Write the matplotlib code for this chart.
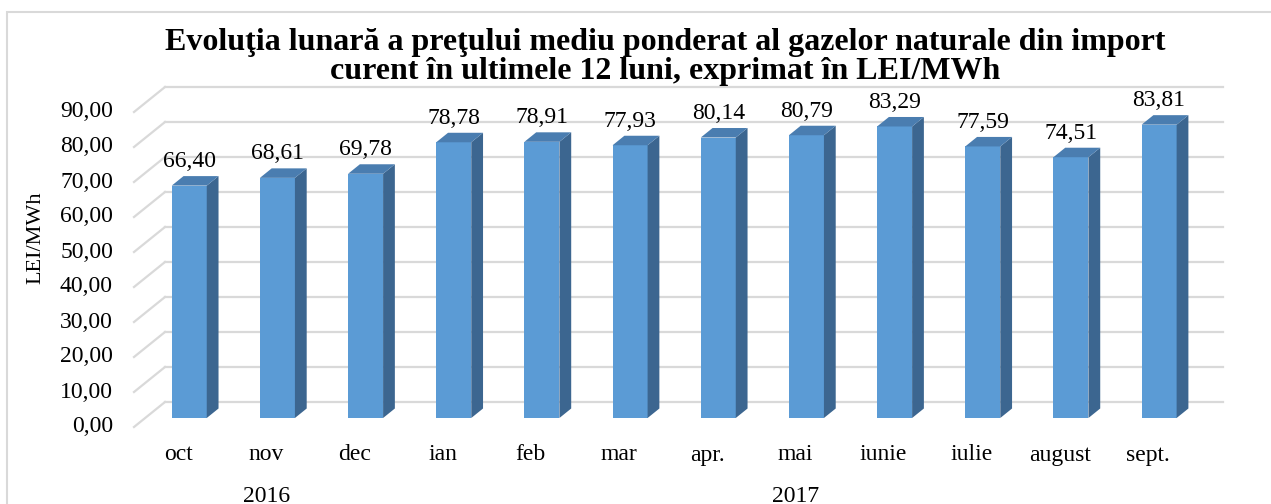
import matplotlib
matplotlib.use("Agg")
import matplotlib.pyplot as plt
from matplotlib.patches import Polygon, Rectangle

# ---- data ----
categories = ["oct", "nov", "dec", "ian", "feb", "mar", "apr.", "mai", "iunie", "iulie", "august", "sept."]
values = [66.40, 68.61, 69.78, 78.78, 78.91, 77.93, 80.14, 80.79, 83.29, 77.59, 74.51, 83.81]
years = ["2016", "2017"]
year_spans = [(0, 2), (3, 11)]
yticks = [0, 10, 20, 30, 40, 50, 60, 70, 80, 90]
title = ("Evoluţia lunară a preţului mediu ponderat al gazelor naturale din import\n"
         "curent în ultimele 12 luni, exprimat în LEI/MWh")
ylabel = "LEI/MWh"

W, H = 1271, 504
plt.rcParams['font.family'] = ['Liberation Serif', 'DejaVu Serif']
fig = plt.figure(figsize=(W / 100, H / 100), dpi=100)

# outer frame
fig.patches.append(Rectangle((7 / W, -0.1), 1.2, (H - 12) / H + 0.1, transform=fig.transFigure,
                             fill=False, edgecolor='#D9D9D9', lw=1.5))

# axes: front plane left corner at px 134, value 0 at px 427
px_cat = 88.17
px_val = 3.5
ax_left, ax_right = 134, 1223
ax_top, ax_bot = 87, 427
ax = fig.add_axes([ax_left / W, (H - ax_bot) / H, (ax_right - ax_left) / W, (ax_bot - ax_top) / H])
ax.set_xlim(-0.5, -0.5 + (ax_right - ax_left) / px_cat)
ax.set_ylim(0, (ax_bot - ax_top) / px_val)
ax.axis('off')

# depth of 3D box (in data units)
dxb = 31 / px_cat
dyb = 25 / px_val
f1, f2 = 0.36, 0.74
bw = 35 / px_cat

fs = 17
grid_c = '#D9D9D9'
xl = -0.5
xr = -0.5 + 12
for v in yticks:
    ax.plot([xl, xl + dxb], [v, v + dyb], color=grid_c, lw=1.6, zorder=1, clip_on=False)
    ax.plot([xl + dxb, xr + dxb], [v + dyb, v + dyb], color=grid_c, lw=1.6, zorder=1, clip_on=False)
    ax.annotate(f"{v:.2f}".replace('.', ','), (xl, v), xytext=(-21, 0), textcoords='offset pixels',
                ha='right', va='center', fontsize=fs, zorder=3, annotation_clip=False)

front_c = '#5B9BD5'
top_c = '#4A7DB0'
side_c = '#3C6690'
for i, v in enumerate(values):
    x0 = i - bw / 2 + f1 * dxb
    y0 = f1 * dyb
    ddx = (f2 - f1) * dxb
    ddy = (f2 - f1) * dyb
    x1 = x0 + bw
    y1 = y0 + v
    ax.add_patch(Polygon([(x0, y0), (x1, y0), (x1, y1), (x0, y1)], closed=True,
                         facecolor=front_c, edgecolor='none', zorder=4))
    ax.add_patch(Polygon([(x1, y0), (x1 + ddx, y0 + ddy), (x1 + ddx, y1 + ddy), (x1, y1)], closed=True,
                         facecolor=side_c, edgecolor='none', zorder=4))
    ax.add_patch(Polygon([(x0, y1), (x1, y1), (x1 + ddx, y1 + ddy), (x0 + ddx, y1 + ddy)], closed=True,
                         facecolor=top_c, edgecolor='none', zorder=4))
    ax.annotate(f"{v:.2f}".replace('.', ','), (i + f1 * dxb, y1 + ddy), xytext=(0, 4),
                textcoords='offset pixels', ha='center', va='bottom', fontsize=fs, zorder=5)

for i, c in enumerate(categories):
    ax.annotate(c, (i, 0), xytext=(0, -28), textcoords='offset pixels', ha='center', va='center',
                fontsize=fs, annotation_clip=False)

for y, (a, b) in zip(years, year_spans):
    ax.annotate(y, ((a + b) / 2, 0), xytext=(0, -69), textcoords='offset pixels', ha='center',
                va='center', fontsize=fs, annotation_clip=False)

fig.text(36 / W, (H - 238) / H, ylabel, rotation=90, ha='center', va='center', fontsize=16)
fig.text(665 / W, (H - 57) / H, title, ha='center', va='center', fontsize=23, fontweight='bold',
         linespacing=1.02)

fig.savefig("out.png", dpi=100)
